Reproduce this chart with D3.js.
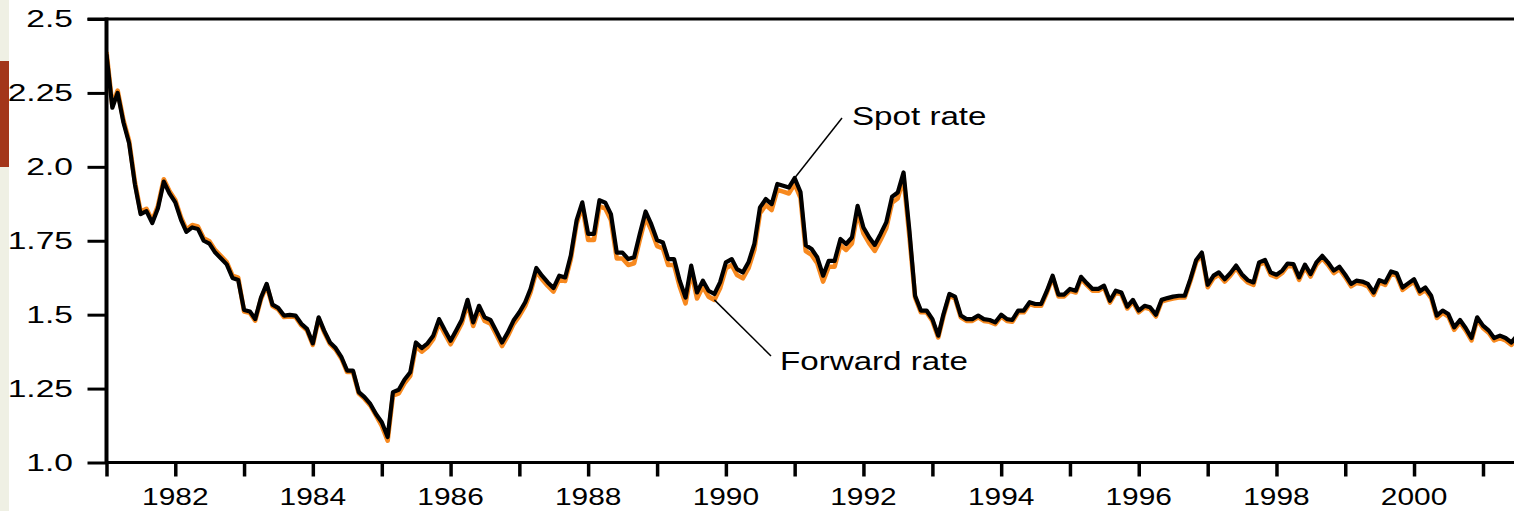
<!DOCTYPE html>
<html>
<head>
<meta charset="utf-8">
<script src="https://cdn.jsdelivr.net/npm/d3@7"></script>
<style>
  body { margin: 0; background: #fff; }
  svg { display: block; }
  text { font-family: "Liberation Sans", Arial, Helvetica, sans-serif; fill: #000; }
</style>
</head>
<body>
<div id="chart"></div>
<script>
// monthly $ per £, Jan 1981 onwards
const spotRate = [
  2.38, 2.20, 2.25, 2.15, 2.08, 1.94, 1.84, 1.85, 1.81, 1.86, 1.95, 1.91,
  1.88, 1.82, 1.78, 1.795, 1.79, 1.75, 1.74, 1.71, 1.69, 1.67, 1.624, 1.617,
  1.516, 1.511, 1.485, 1.558, 1.604, 1.534, 1.523, 1.497, 1.499, 1.497, 1.469, 1.452,
  1.403, 1.491, 1.446, 1.406, 1.387, 1.356, 1.311, 1.311, 1.238, 1.221, 1.198, 1.164,
  1.136, 1.086, 1.238, 1.246, 1.28, 1.305, 1.406, 1.387, 1.403, 1.429, 1.485, 1.448,
  1.412, 1.448, 1.482, 1.55, 1.474, 1.53, 1.491, 1.482, 1.444, 1.406, 1.44, 1.48,
  1.508, 1.542, 1.587, 1.658, 1.632, 1.609, 1.59, 1.632, 1.626, 1.70, 1.82, 1.88,
  1.773, 1.773, 1.887, 1.879, 1.84, 1.71, 1.71, 1.688, 1.694, 1.773, 1.849, 1.806,
  1.752, 1.744, 1.688, 1.688, 1.615, 1.558, 1.666, 1.575, 1.615, 1.581, 1.57, 1.609,
  1.677, 1.688, 1.654, 1.643, 1.677, 1.739, 1.863, 1.891, 1.874, 1.942, 1.936, 1.93,
  1.962, 1.915, 1.735, 1.722, 1.694, 1.632, 1.682, 1.682, 1.756, 1.739, 1.761, 1.868,
  1.795, 1.761, 1.736, 1.773, 1.812, 1.899, 1.913, 1.981, 1.784, 1.564, 1.514, 1.514,
  1.485, 1.429, 1.502, 1.57, 1.561, 1.497, 1.485, 1.485, 1.497, 1.485, 1.482, 1.474,
  1.5, 1.485, 1.482, 1.514, 1.514, 1.542, 1.536, 1.536, 1.581, 1.632, 1.568, 1.568,
  1.587, 1.581, 1.628, 1.606, 1.587, 1.587, 1.598, 1.547, 1.581, 1.575, 1.527, 1.55,
  1.514, 1.53, 1.525, 1.5, 1.55, 1.556, 1.561, 1.564, 1.564, 1.62, 1.685, 1.71,
  1.601, 1.632, 1.643, 1.62, 1.64, 1.666, 1.637, 1.617, 1.609, 1.677, 1.685, 1.643,
  1.635, 1.649, 1.673, 1.671, 1.626, 1.669, 1.637, 1.677, 1.699, 1.677, 1.649, 1.662,
  1.635, 1.604, 1.615, 1.612, 1.604, 1.575, 1.617, 1.609, 1.646, 1.64, 1.592, 1.606,
  1.62, 1.579, 1.592, 1.564, 1.497, 1.514, 1.502, 1.457, 1.482, 1.455, 1.421, 1.491,
  1.463, 1.446, 1.421, 1.429, 1.421, 1.406, 1.429
];

const forwardRate = [
  2.388, 2.208, 2.258, 2.158, 2.088, 1.948, 1.848, 1.858, 1.818, 1.868, 1.958, 1.918,
  1.888, 1.828, 1.788, 1.803, 1.798, 1.758, 1.748, 1.718, 1.698, 1.678, 1.632, 1.625,
  1.511, 1.506, 1.48, 1.553, 1.599, 1.529, 1.518, 1.492, 1.494, 1.492, 1.464, 1.447,
  1.398, 1.486, 1.441, 1.401, 1.382, 1.351, 1.306, 1.306, 1.233, 1.216, 1.193, 1.159,
  1.124, 1.074, 1.226, 1.234, 1.268, 1.293, 1.394, 1.375, 1.391, 1.417, 1.473, 1.436,
  1.4, 1.436, 1.47, 1.538, 1.462, 1.518, 1.479, 1.47, 1.432, 1.394, 1.428, 1.468,
  1.496, 1.53, 1.575, 1.646, 1.62, 1.597, 1.578, 1.62, 1.614, 1.688, 1.808, 1.868,
  1.753, 1.753, 1.867, 1.859, 1.82, 1.69, 1.69, 1.668, 1.674, 1.753, 1.829, 1.786,
  1.732, 1.724, 1.668, 1.668, 1.595, 1.538, 1.646, 1.555, 1.595, 1.561, 1.55, 1.589,
  1.657, 1.668, 1.634, 1.623, 1.657, 1.719, 1.843, 1.871, 1.854, 1.922, 1.916, 1.91,
  1.942, 1.895, 1.715, 1.702, 1.674, 1.612, 1.662, 1.662, 1.736, 1.719, 1.741, 1.848,
  1.775, 1.741, 1.716, 1.753, 1.792, 1.879, 1.893, 1.961, 1.764, 1.558, 1.508, 1.508,
  1.479, 1.423, 1.496, 1.564, 1.555, 1.491, 1.479, 1.479, 1.491, 1.479, 1.476, 1.468,
  1.494, 1.479, 1.476, 1.508, 1.508, 1.536, 1.53, 1.53, 1.575, 1.626, 1.562, 1.562,
  1.581, 1.575, 1.622, 1.6, 1.581, 1.581, 1.592, 1.541, 1.575, 1.569, 1.521, 1.544,
  1.508, 1.524, 1.519, 1.494, 1.544, 1.55, 1.555, 1.558, 1.558, 1.614, 1.679, 1.702,
  1.593, 1.624, 1.635, 1.612, 1.632, 1.658, 1.629, 1.609, 1.601, 1.669, 1.677, 1.635,
  1.627, 1.641, 1.665, 1.663, 1.618, 1.661, 1.629, 1.669, 1.691, 1.669, 1.641, 1.654,
  1.627, 1.596, 1.607, 1.604, 1.596, 1.567, 1.609, 1.601, 1.638, 1.632, 1.584, 1.598,
  1.612, 1.571, 1.584, 1.556, 1.489, 1.506, 1.494, 1.449, 1.474, 1.447, 1.413, 1.483,
  1.455, 1.438, 1.413, 1.421, 1.413, 1.398, 1.421
];

const yTicks = [1.0, 1.25, 1.5, 1.75, 2.0, 2.25, 2.5];
const yTickLabels = ["1.0", "1.25", "1.5", "1.75", "2.0", "2.25", "2.5"];
const tickYears = d3.range(1981, 2002);
const labelYears = [1982, 1984, 1986, 1988, 1990, 1992, 1994, 1996, 1998, 2000];

//sizes
const width = 1514, height = 511;
const plotLeft = 106.5, plotTop = 19, plotBottom = 462.5;

const months = spotRate.map((d, i) => new Date(1981, i, 1));

const x = d3.scaleTime()
  .domain([new Date(1981, 0, 1), new Date(2001, 0, 1)])
  .range([plotLeft, 1483]);
const y = d3.scaleLinear().domain([1, 2.5]).range([plotBottom, plotTop]);

const svg = d3.select("#chart").append("svg")
  .attr("width", width)
  .attr("height", height);

//slide edge on the left
svg.append("rect").attr("x", 0).attr("y", 0).attr("width", 9).attr("height", height).attr("fill", "#eff0e4");
svg.append("rect").attr("x", 0).attr("y", 61).attr("width", 9).attr("height", 106).attr("fill", "#a3361a");

svg.append("clipPath").attr("id", "plotclip")
  .append("rect")
  .attr("x", plotLeft).attr("y", 0)
  .attr("width", width - plotLeft).attr("height", plotBottom);

const line = d3.line()
  .x((d, i) => x(months[i]))
  .y(d => y(d));

const lines = svg.append("g").attr("clip-path", "url(#plotclip)");

lines.append("path")
  .datum(forwardRate)
  .attr("d", line)
  .attr("fill", "none")
  .attr("stroke", "#f7891f")
  .attr("stroke-width", 4.6)
  .attr("stroke-linejoin", "round");

lines.append("path")
  .datum(spotRate)
  .attr("d", line)
  .attr("fill", "none")
  .attr("stroke", "#000")
  .attr("stroke-width", 4.2)
  .attr("stroke-linejoin", "round");

//y axis ticks
const yAxis = svg.append("g")
  .attr("transform", `translate(${plotLeft},0)`)
  .call(d3.axisLeft(y).tickValues(yTicks).tickFormat("").tickSize(19).tickSizeOuter(0));
yAxis.select(".domain").remove();
yAxis.selectAll(".tick line").attr("stroke", "#000").attr("stroke-width", 3);

//x axis ticks
const xAxis = svg.append("g")
  .attr("transform", `translate(0,${plotBottom})`)
  .call(d3.axisBottom(x).tickValues(tickYears.map(yr => new Date(yr, 0, 1))).tickFormat("").tickSize(14).tickSizeOuter(0));
xAxis.select(".domain").remove();
xAxis.selectAll(".tick line").attr("stroke", "#000").attr("stroke-width", 3.5);

//frame
svg.append("line").attr("x1", plotLeft).attr("x2", plotLeft).attr("y1", plotTop - 1.5).attr("y2", plotBottom + 1.5)
  .attr("stroke", "#000").attr("stroke-width", 4);
svg.append("line").attr("x1", plotLeft).attr("x2", width).attr("y1", plotBottom).attr("y2", plotBottom)
  .attr("stroke", "#000").attr("stroke-width", 3);
svg.append("line").attr("x1", plotLeft - 19).attr("x2", width).attr("y1", plotTop).attr("y2", plotTop)
  .attr("stroke", "#000").attr("stroke-width", 3);

// type in the picture is set wide, so stretch it sideways
function wideText(tx, ty, str, size, anchor, sx) {
  svg.append("text")
    .attr("transform", `translate(${tx},${ty}) scale(${sx},1)`)
    .attr("text-anchor", anchor)
    .attr("font-size", size)
    .text(str);
}

yTicks.forEach((v, i) => wideText(73, y(v) + 8.3, yTickLabels[i], 23, "end", 1.46));
labelYears.forEach(yr => wideText(x(new Date(yr, 0, 1)), 505, String(yr), 23, "middle", 1.3));

//annotations
const spotIdx = 120, fwdIdx = 106;
svg.append("line")
  .attr("x1", x(months[spotIdx])).attr("y1", y(spotRate[spotIdx]))
  .attr("x2", 842).attr("y2", 118)
  .attr("stroke", "#000").attr("stroke-width", 1.5);
wideText(852, 125, "Spot rate", 25.5, "start", 1.3);

svg.append("line")
  .attr("x1", x(months[fwdIdx])).attr("y1", y(forwardRate[fwdIdx]))
  .attr("x2", 771).attr("y2", 356)
  .attr("stroke", "#000").attr("stroke-width", 1.5);
wideText(780, 370, "Forward rate", 25.5, "start", 1.3);
</script>
</body>
</html>
